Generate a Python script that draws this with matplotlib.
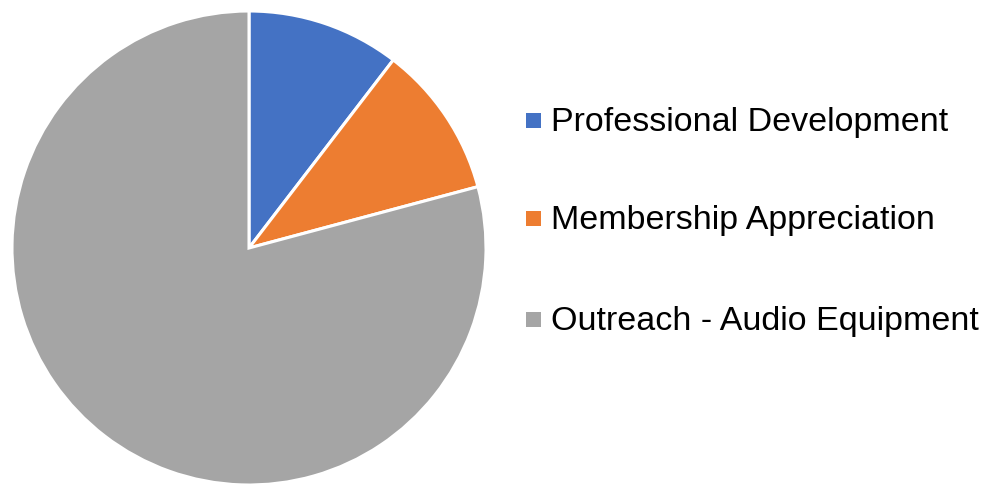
import matplotlib
matplotlib.use("Agg")
import matplotlib.pyplot as plt
from matplotlib.patches import Rectangle

labels = ["Professional Development", "Membership Appreciation", "Outreach - Audio Equipment"]
values = [500, 500, 3800]
colors = ["#4472C4", "#ED7D31", "#A5A5A5"]

W, H = 990, 485
fig = plt.figure(figsize=(W / 100, H / 100), dpi=100)
plt.rcParams['font.family'] = ['Liberation Sans', 'DejaVu Sans']

# pie centre (249, 249) px, radius 237 px
cx, cy, r = 249, 249, 237
ax = fig.add_axes([(cx - r) / W, (H - cy - r) / H, 2 * r / W, 2 * r / H])
ax.pie(values, colors=colors, startangle=90, counterclock=False,
       wedgeprops=dict(edgecolor="white", linewidth=2.2), radius=1.0)
ax.set_xlim(-1, 1)
ax.set_ylim(-1, 1)
ax.set_aspect("equal")
ax.axis("off")

# legend entries
rows_y = [121, 219, 320]
for lab, col, y in zip(labels, colors, rows_y):
    fig.patches.append(Rectangle((526 / W, (H - y - 7.5) / H), 15 / W, 15 / H,
                                 transform=fig.transFigure, facecolor=col,
                                 edgecolor="none"))
    fig.text(551 / W, (H - y - 2) / H, lab, fontsize=24.5, va="center", ha="left",
             color="#000000")

fig.savefig("out.png", dpi=100)
